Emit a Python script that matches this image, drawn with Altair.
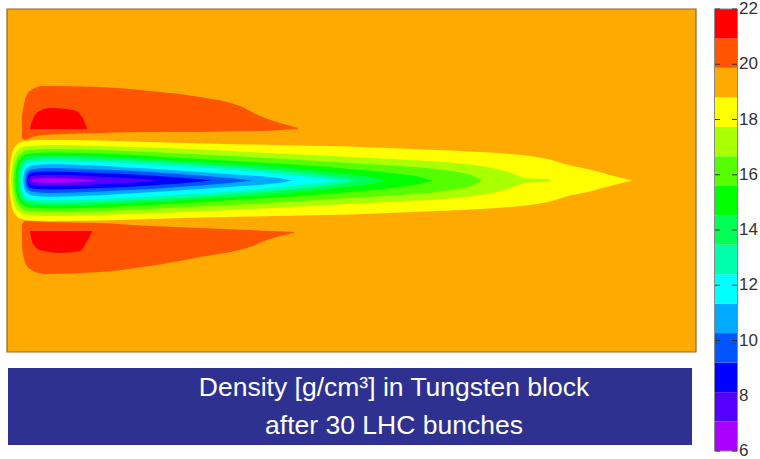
import altair as alt
import pandas as pd

FONT = "Liberation Sans"

# colour scale: 15 equal bands between 6 and 22 g/cm3
BAND_EDGES = [6.0, 7.07, 8.13, 9.2, 10.27, 11.33, 12.4, 13.47, 14.53, 15.6,
              16.67, 17.73, 18.8, 19.87, 20.93, 22.0]
BAND_COLORS = ["#aa00ff", "#5500ff", "#0000ff", "#0055ff", "#00aaff",
               "#00ffff", "#00ffaa", "#00ff55", "#00ff00", "#55ff00",
               "#aaff00", "#ffff00", "#ffaa00", "#ff5500", "#ff0000"]
TICK_VALUES = [6, 8, 10, 12, 14, 16, 18, 20, 22]
TITLE_LINES = ["Density [g/cm\u00b3] in Tungsten block", "after 30 LHC bunches"]

# block extent (depth along beam, radius from axis), arbitrary units
DEPTH_RANGE = [0, 689]
RADIUS_RANGE = [-171.5, 171.5]
BACKGROUND_BAND = 12  # 18.8 - 19.9

# central low-density plume: (depth, half width) per contour, outermost first
PLUME_YELLOW = [(2, 0), (3, 14), (4, 22), (6, 30), (9, 35), (13, 38), (23, 40), (43, 40.5),
                (93, 40), (143, 38.5), (193, 37), (243, 36), (293, 35), (343, 34), (393, 32),
                (443, 30), (463, 29), (513, 25.5), (543, 21), (563, 15), (583, 11),
                (603, 5.5), (625, 0)]
PLUME_YELLOWGREEN = [(4, 0), (5, 12), (6, 19), (8, 26), (12, 31), (18, 34), (43, 35.5),
                     (93, 34.5), (143, 33), (193, 31), (243, 28.5), (293, 26), (343, 23.5),
                     (393, 21), (443, 18), (463, 16), (483, 13), (503, 8), (513, 4),
                     (518, 2.2), (530, 1.8), (541, 1.2), (544, 0)]
PLUME_LIME = [(6, 0), (7, 10), (8, 16), (10, 22), (14, 27), (21, 30.5), (43, 31.5), (93, 30.5),
              (143, 28.5), (193, 26), (243, 23.5), (293, 20.5), (343, 17.5), (393, 14.5),
              (433, 11), (453, 8), (468, 4), (475, 0)]
PLUME_GREEN = [(8, 0), (9, 10), (10, 15), (12, 20), (16, 24.5), (23, 27), (43, 28),
               (93, 27), (143, 24.5), (193, 21.5), (243, 18.5), (293, 15.5), (343, 11.5),
               (393, 6.5), (413, 3.5), (425, 0)]
PLUME_SPRING = [(10, 0), (11, 9), (12, 14), (14, 19), (18, 22.5), (26, 24.5), (43, 25),
                (93, 24), (143, 21.5), (193, 18.5), (243, 15.5), (293, 11.5), (333, 7),
                (363, 3.5), (378, 0)]
PLUME_AQUA = [(12, 0), (13, 9), (14, 13), (16, 17), (21, 20.5), (30, 22), (43, 22.5),
              (93, 21.5), (143, 19), (193, 16), (243, 12.5), (293, 8), (323, 4.5),
              (343, 1.5), (350, 0)]
PLUME_CYAN = [(14, 0), (15, 8), (16, 12), (18, 16), (23, 18.5), (43, 19.8), (93, 18.5),
              (143, 16), (193, 13), (243, 9.5), (283, 5.5), (313, 2.5), (333, 0)]
PLUME_SKY = [(16, 0), (17, 7), (18, 10), (21, 13), (28, 15.5), (43, 16.2), (93, 14.8),
             (143, 11.8), (193, 8.5), (243, 5), (273, 2.2), (285, 0)]
PLUME_AZURE = [(18, 0), (19, 6), (21, 9), (26, 11.5), (43, 12.5), (93, 11), (143, 8.5),
               (193, 5), (223, 2.5), (245, 0)]
PLUME_BLUE = [(20, 0), (21, 5), (23, 7), (30, 8.5), (43, 9), (93, 7.5), (143, 5),
              (173, 3), (205, 0)]
PLUME_INDIGO = [(21, 0), (22, 3), (25, 4.5), (35, 5.5), (55, 5.5), (80, 4.5), (110, 3),
                (135, 1.5), (150, 0)]
PLUME_VIOLET = [(24, 0), (28, 1.8), (40, 2.5), (60, 2.3), (75, 1.5), (90, 0)]

PLUME = [(11, PLUME_YELLOW), (10, PLUME_YELLOWGREEN), (9, PLUME_LIME), (8, PLUME_GREEN),
         (7, PLUME_SPRING), (6, PLUME_AQUA), (5, PLUME_CYAN), (4, PLUME_SKY),
         (3, PLUME_AZURE), (2, PLUME_BLUE), (1, PLUME_INDIGO), (0, PLUME_VIOLET)]

# compressed high-density lobes beside the plume: (depth, outer radius, inner radius)
LOBE_UPPER = [(15, 65.5, 42.5), (18, 80.5, 40.5), (23, 89.5, 42.5), (36, 94.5, 45.5),
              (93, 93.5, 47.5), (143, 89.5, 48.5), (193, 83.5, 48.5), (233, 74.5, 49.5),
              (253, 64.5, 49.5), (273, 57.5, 50.5), (291, 52.5, 51.5)]
LOBE_LOWER = [(15, -44.5, -67.5), (18, -40.5, -81.5), (23, -40.5, -88.5), (38, -41.5, -93.5),
              (93, -42.5, -91.5), (143, -45.5, -85.5), (193, -47.5, -76.5),
              (243, -49.5, -66.5), (263, -50.5, -58.5), (287, -51.5, -52.5)]
PEAK_UPPER = [(23, 52.5, 51.5), (26, 61.5, 51.5), (31, 68.5, 51.5), (43, 72.5, 51.5),
              (66, 70.5, 51.5), (73, 66.5, 51.5), (80, 52.5, 51.5)]
PEAK_LOWER = [(23, -50.5, -51.5), (26, -50.5, -63.5), (33, -50.5, -69.5), (53, -50.5, -72.5),
              (73, -50.5, -70.5), (79, -50.5, -62.5), (85, -50.5, -51.5)]
LOBES = [(13, LOBE_UPPER), (13, LOBE_LOWER), (14, PEAK_UPPER), (14, PEAK_LOWER)]

# ---------------- main contour panel ----------------
xs = alt.Scale(domain=DEPTH_RANGE, range=[7, 696], nice=False, zero=False)
ys = alt.Scale(domain=RADIUS_RANGE, range=[352, 9], nice=False, zero=False)

block_df = pd.DataFrame({"d0": [DEPTH_RANGE[0]], "d1": [DEPTH_RANGE[1]],
                         "r0": [RADIUS_RANGE[0]], "r1": [RADIUS_RANGE[1]]})
block = alt.Chart(block_df).mark_rect(
    color=BAND_COLORS[BACKGROUND_BAND], stroke="#94651f", strokeWidth=1.2
).encode(
    x=alt.X("d0:Q", scale=xs, axis=None), x2="d1:Q",
    y=alt.Y("r0:Q", scale=ys, axis=None), y2="r1:Q",
)


def area_layer(rows, color):
    df = pd.DataFrame(rows, columns=["depth", "upper", "lower"])
    return alt.Chart(df).mark_area(color=color, interpolate="monotone", opacity=1).encode(
        x=alt.X("depth:Q", scale=xs, axis=None),
        y=alt.Y("upper:Q", scale=ys, axis=None),
        y2="lower:Q",
    )


layers = [block]
for band, rows in LOBES:
    layers.append(area_layer(rows, BAND_COLORS[band]))
for band, prof in PLUME:
    layers.append(area_layer([(d, w, -w) for d, w in prof], BAND_COLORS[band]))
main = alt.layer(*layers)

# ---------------- colour bar ----------------
cs = alt.Scale(domain=[BAND_EDGES[0], BAND_EDGES[-1]], range=[451, 9], nice=False, zero=False)
band_df = pd.DataFrame({"lo": BAND_EDGES[:-1], "hi": BAND_EDGES[1:], "color": BAND_COLORS})
frame_df = pd.DataFrame({"lo": [BAND_EDGES[0]], "hi": [BAND_EDGES[-1]]})
tick_df = pd.DataFrame({"tick": TICK_VALUES})

bars = alt.Chart(band_df).mark_rect().encode(
    x=alt.value(715), x2=alt.value(737),
    y=alt.Y("lo:Q", scale=cs, axis=None), y2="hi:Q",
    color=alt.Color("color:N", scale=None),
)
frame = alt.Chart(frame_df).mark_rect(filled=False, stroke="#8a8a8a", strokeWidth=1).encode(
    x=alt.value(714.5), x2=alt.value(737.5),
    y=alt.Y("lo:Q", scale=cs, axis=None), y2="hi:Q",
)
ticks_l = alt.Chart(tick_df).mark_rule(color="#333333", strokeWidth=1).encode(
    x=alt.value(715), x2=alt.value(720), y=alt.Y("tick:Q", scale=cs, axis=None),
)
ticks_r = alt.Chart(tick_df).mark_rule(color="#333333", strokeWidth=1).encode(
    x=alt.value(732), x2=alt.value(737), y=alt.Y("tick:Q", scale=cs, axis=None),
)
labels = alt.Chart(tick_df).mark_text(
    font=FONT, fontSize=17, color="#333333", align="left", baseline="middle"
).encode(
    x=alt.value(739), y=alt.Y("tick:Q", scale=cs, axis=None), text=alt.Text("tick:Q"),
)
colorbar = alt.layer(bars, frame, ticks_l, ticks_r, labels)

# ---------------- caption box ----------------
cap_df = pd.DataFrame({"row": [0, 1], "text": TITLE_LINES})
cap_box = alt.Chart(cap_df).mark_rect(color="#2e3190").encode(
    x=alt.value(8), x2=alt.value(692), y=alt.value(368), y2=alt.value(445),
)
cap_text = alt.Chart(cap_df).mark_text(
    font=FONT, fontSize=26.5, color="white", align="center", baseline="middle"
).encode(
    x=alt.value(394),
    y=alt.Y("row:O", axis=None, scale=alt.Scale(type="point", range=[388, 426], padding=0)),
    text="text:N",
)
caption = alt.layer(cap_box, cap_text)

chart = alt.layer(main, colorbar, caption).resolve_scale(
    x="independent", y="independent"
).properties(
    width=760, height=459, padding=0, autosize=alt.AutoSizeParams(type="none")
).configure_view(strokeWidth=0)

chart.save("out.html", embed_options={"renderer": "svg", "actions": False})
